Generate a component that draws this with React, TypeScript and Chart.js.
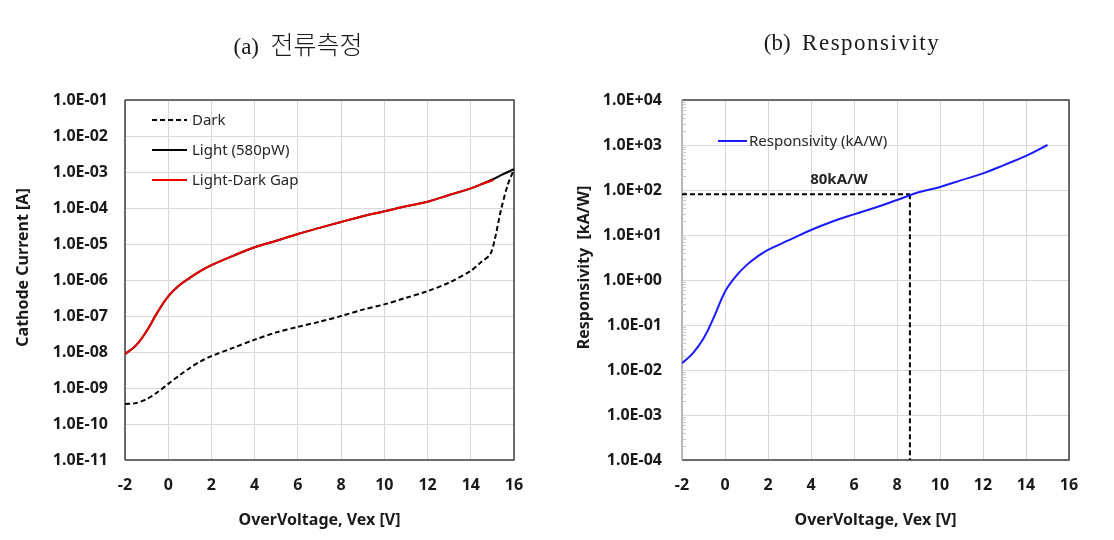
import React, { useEffect, useRef } from 'react';
import { Chart, registerables } from 'chart.js';
Chart.register(...registerables);

// ---------- data ----------
const titleA = '(a)';
const titleAKo = '전류측정';
const titleB = '(b)';
const titleBText = 'Responsivity';

const xTicks = [-2, 0, 2, 4, 6, 8, 10, 12, 14, 16];
const yTicksA = [1e-11, 1e-10, 1e-9, 1e-8, 1e-7, 1e-6, 1e-5, 1e-4, 1e-3, 1e-2, 1e-1];
const yTicksB = [1e-4, 1e-3, 1e-2, 1e-1, 1e0, 1e1, 1e2, 1e3, 1e4];

const darkV = [-2, -1.5, -1, -0.5, 0, 0.5, 1, 1.5, 2, 3, 4, 5, 6, 7, 8, 9, 10, 11, 12, 13, 14, 14.5, 14.9, 15.1, 15.4, 15.7, 16];
const darkI = [3.6e-10, 3.8e-10, 4.9e-10, 7.6e-10, 1.3e-9, 2.2e-9, 3.6e-9, 5.5e-9, 7.7e-9, 1.3e-8, 2.2e-8, 3.5e-8, 5.0e-8, 6.9e-8, 1.0e-7, 1.5e-7, 2.1e-7, 3.2e-7, 4.9e-7, 8.5e-7, 1.8e-6, 3.2e-6, 5.2e-6, 1.26e-5, 8.9e-5, 4.2e-4, 1.2e-3];

const lightV = [-2, -1.5, -1, -0.5, 0, 0.5, 1, 1.5, 2, 3, 4, 5, 6, 7, 8, 9, 10, 11, 12, 13, 14, 14.5, 15, 15.5, 16];
const lightI = [8.7e-9, 1.5e-8, 3.8e-8, 1.26e-7, 3.5e-7, 7.0e-7, 1.15e-6, 1.8e-6, 2.6e-6, 4.7e-6, 8.1e-6, 1.23e-5, 1.9e-5, 2.8e-5, 4.1e-5, 5.9e-5, 8.1e-5, 1.12e-4, 1.5e-4, 2.3e-4, 3.5e-4, 4.6e-4, 6.2e-4, 8.7e-4, 1.2e-3];

const gapV = [-2, -1.5, -1, -0.5, 0, 0.5, 1, 1.5, 2, 3, 4, 5, 6, 7, 8, 9, 10, 11, 12, 13, 14, 14.5, 15.05];
const gapI = [8.7e-9, 1.5e-8, 3.8e-8, 1.26e-7, 3.5e-7, 7.0e-7, 1.15e-6, 1.8e-6, 2.6e-6, 4.7e-6, 8.1e-6, 1.23e-5, 1.9e-5, 2.8e-5, 4.1e-5, 5.9e-5, 8.1e-5, 1.12e-4, 1.5e-4, 2.3e-4, 3.5e-4, 4.6e-4, 6.0e-4];

const respV = [-2, -1.5, -1, -0.5, 0, 0.5, 1, 1.5, 2, 3, 4, 5, 6, 7, 8, 9, 10, 11, 12, 13, 14, 15];
const respR = [0.0141, 0.0234, 0.05, 0.155, 0.55, 1.2, 2.14, 3.3, 4.68, 7.76, 12.9, 20.0, 28.8, 40.7, 60, 89, 117, 166, 234, 363, 575, 1000];

const refV = 8.6;
const refR = 80;
const refLabel = '80kA/W';
const refLabelX = 5.3;
const refLabelY = 170;

// ---------- helpers ----------
const FONT = "'Noto Sans', sans-serif";

function fmtExp(v: number): string {
  const e = Math.round(Math.log10(v));
  const m = v / Math.pow(10, e);
  const sign = e < 0 ? '-' : '+';
  const a = Math.abs(e);
  return m.toFixed(1) + 'E' + sign + (a < 10 ? '0' + a : '' + a);
}

function pts(xs: number[], ys: number[]) {
  return xs.map((x, i) => ({ x, y: ys[i] }));
}

const boxPlugin = {
  id: 'box',
  beforeDatasetsDraw(chart: any, _a: any, opts: any) {
    const { ctx, chartArea: c } = chart;
    ctx.save();
    ctx.lineWidth = 1.5;
    ctx.strokeStyle = opts.color || '#444';
    ctx.beginPath();
    ctx.moveTo(c.left, c.top);
    ctx.lineTo(c.right, c.top);
    ctx.lineTo(c.right, c.bottom);
    ctx.lineTo(c.left, c.bottom);
    ctx.stroke();
    ctx.strokeStyle = opts.leftColor || opts.color || '#444';
    ctx.beginPath();
    ctx.moveTo(c.left, c.top);
    ctx.lineTo(c.left, c.bottom);
    ctx.stroke();
    if (opts.minor) {
      const ys = chart.scales.y;
      ctx.strokeStyle = '#c8c8c8';
      ctx.lineWidth = 1;
      for (let e = Math.round(Math.log10(ys.min)); e < Math.round(Math.log10(ys.max)); e++) {
        for (let k = 2; k <= 9; k++) {
          const py = Math.round(ys.getPixelForValue(k * Math.pow(10, e))) + 0.5;
          ctx.beginPath();
          ctx.moveTo(c.left, py);
          ctx.lineTo(c.left + 4, py);
          ctx.stroke();
        }
      }
    }
    ctx.restore();
  },
};

const legendPlugin = {
  id: 'innerLegend',
  afterDraw(chart: any, _a: any, opts: any) {
    const { ctx } = chart;
    ctx.save();
    ctx.font = '15px ' + FONT;
    ctx.textBaseline = 'middle';
    ctx.fillStyle = '#262626';
    let y = opts.y;
    chart.data.datasets.forEach((ds: any) => {
      if (!ds.inLegend) return;
      ctx.strokeStyle = ds.borderColor;
      ctx.lineWidth = 2;
      ctx.setLineDash(ds.borderDash || []);
      ctx.beginPath();
      ctx.moveTo(opts.x, y);
      ctx.lineTo(opts.x + opts.lineLen, y);
      ctx.stroke();
      ctx.setLineDash([]);
      ctx.fillText(ds.label, opts.textX, y + 1);
      y += opts.rowH;
    });
    ctx.restore();
  },
};

const refTextPlugin = {
  id: 'refText',
  afterDatasetsDraw(chart: any, _a: any, opts: any) {
    if (!opts || !opts.text) return;
    const { ctx, scales } = chart;
    ctx.save();
    ctx.font = 'bold 15px ' + FONT;
    ctx.textAlign = 'center';
    ctx.textBaseline = 'middle';
    ctx.fillStyle = '#262626';
    ctx.fillText(opts.text, scales.x.getPixelForValue(opts.x), scales.y.getPixelForValue(opts.y));
    ctx.restore();
  },
};

function makeOptions(yTicks: number[], yTitle: string, yTitlePad: number, yTickPad: number, rightPad: number, plugins: any) {
  return {
    responsive: false,
    animation: false as const,
    devicePixelRatio: 1,
    layout: { padding: { left: 0, right: rightPad, top: 100, bottom: 0 } },
    plugins: {
      legend: { display: false },
      tooltip: { enabled: false },
      ...plugins,
    },
    elements: { point: { radius: 0 }, line: { tension: 0.4 } },
    scales: {
      x: {
        type: 'linear' as const,
        min: -2,
        max: 16,
        afterBuildTicks: (s: any) => { s.ticks = xTicks.map((v) => ({ value: v })); },
        afterFit: (s: any) => { s.height = 80; },
        grid: { color: '#d9d9d9', drawTicks: false },
        border: { display: false },
        ticks: { padding: 16, color: '#1a1a1a', font: { family: FONT, size: 16, weight: 'bold' as const }, maxRotation: 0 },
        title: { display: true, text: 'OverVoltage, Vex [V]', color: '#1a1a1a', padding: { top: 0, bottom: 10 }, font: { family: FONT, size: 16, weight: 'bold' as const } },
      },
      y: {
        type: 'logarithmic' as const,
        min: yTicks[0],
        max: yTicks[yTicks.length - 1],
        afterBuildTicks: (s: any) => { s.ticks = yTicks.map((v) => ({ value: v })); },
        afterFit: (s: any) => { s.width = 125; },
        grid: { color: '#d9d9d9', drawTicks: false },
        border: { display: false },
        ticks: { padding: yTickPad, color: '#1a1a1a', font: { family: FONT, size: 16, weight: 'bold' as const }, callback: (v: any) => fmtExp(Number(v)) },
        title: { display: true, text: '      ' + yTitle, color: '#1a1a1a', padding: { top: yTitlePad, bottom: 0 }, font: { family: FONT, size: 16, weight: 'bold' as const } },
      },
    },
  };
}

function CurrentChart() {
  const ref = useRef<HTMLCanvasElement>(null);
  useEffect(() => {
    const chart = new Chart(ref.current as HTMLCanvasElement, {
      type: 'line',
      data: {
        datasets: [
          { label: 'Dark', data: pts(darkV, darkI), borderColor: '#000000', borderWidth: 2, borderDash: [5, 3], tension: 0.3, order: 2, inLegend: true } as any,
          { label: 'Light (580pW)', data: pts(lightV, lightI), borderColor: '#000000', borderWidth: 2, order: 1, inLegend: true } as any,
          { label: 'Light-Dark Gap', data: pts(gapV, gapI), borderColor: '#f00000', borderWidth: 2, order: 0, inLegend: true } as any,
        ],
      },
      options: makeOptions(yTicksA, 'Cathode Current [A]', 14, 17, 43, {
        box: { color: '#404040' },
        innerLegend: { x: 152, lineLen: 35, textX: 192, y: 120, rowH: 30 },
      }) as any,
      plugins: [boxPlugin, legendPlugin],
    });
    return () => chart.destroy();
  }, []);
  return <canvas ref={ref} width={557} height={540} style={{ position: 'absolute', left: 0, top: 0 }} />;
}

function RespChart() {
  const ref = useRef<HTMLCanvasElement>(null);
  useEffect(() => {
    const chart = new Chart(ref.current as HTMLCanvasElement, {
      type: 'line',
      data: {
        datasets: [
          { label: 'Responsivity (kA/W)', data: pts(respV, respR), borderColor: '#1a1aff', borderWidth: 2, order: 0, inLegend: true } as any,
          { label: 'refH', data: [{ x: -2, y: refR }, { x: refV, y: refR }], borderColor: '#000000', borderWidth: 2, borderDash: [5, 3], tension: 0, order: 1 } as any,
          { label: 'refV', data: [{ x: refV, y: refR }, { x: refV, y: yTicksB[0] }], borderColor: '#000000', borderWidth: 2, borderDash: [5, 3], tension: 0, order: 1 } as any,
        ],
      },
      options: makeOptions(yTicksB, 'Responsivity  [kA/W]', 18, 20, 45, {
        box: { color: '#404040', leftColor: '#a6a6a6', minor: true },
        innerLegend: { x: 161, lineLen: 29, textX: 192, y: 141, rowH: 30 },
        refText: { text: refLabel, x: refLabelX, y: refLabelY },
      }) as any,
      plugins: [boxPlugin, legendPlugin, refTextPlugin],
    });
    return () => chart.destroy();
  }, []);
  return <canvas ref={ref} width={557} height={540} style={{ position: 'absolute', left: 557, top: 0 }} />;
}

const titleStyle: React.CSSProperties = {
  position: 'absolute',
  top: 27,
  width: 400,
  height: 32,
  lineHeight: '32px',
  textAlign: 'center',
  whiteSpace: 'pre',
  color: '#1a1a1a',
  fontFamily: "'Liberation Serif', 'Noto Sans CJK KR', serif",
  fontSize: 23,
};

export default function App() {
  return (
    <div style={{ position: 'absolute', left: 0, top: 0, width: 1114, height: 540, background: '#ffffff', overflow: 'hidden' }}>
      <CurrentChart />
      <RespChart />
      <div style={{ ...titleStyle, left: 298 - 200 }}>
        {titleA}{'  '}<span style={{ fontFamily: "'Noto Sans CJK KR', sans-serif", fontWeight: 300, fontSize: 25 }}>{titleAKo}</span>
      </div>
      <div style={{ ...titleStyle, left: 852 - 200 }}>
        {titleB}{'  '}<span style={{ letterSpacing: 1.5 }}>{titleBText}</span>
      </div>
    </div>
  );
}
